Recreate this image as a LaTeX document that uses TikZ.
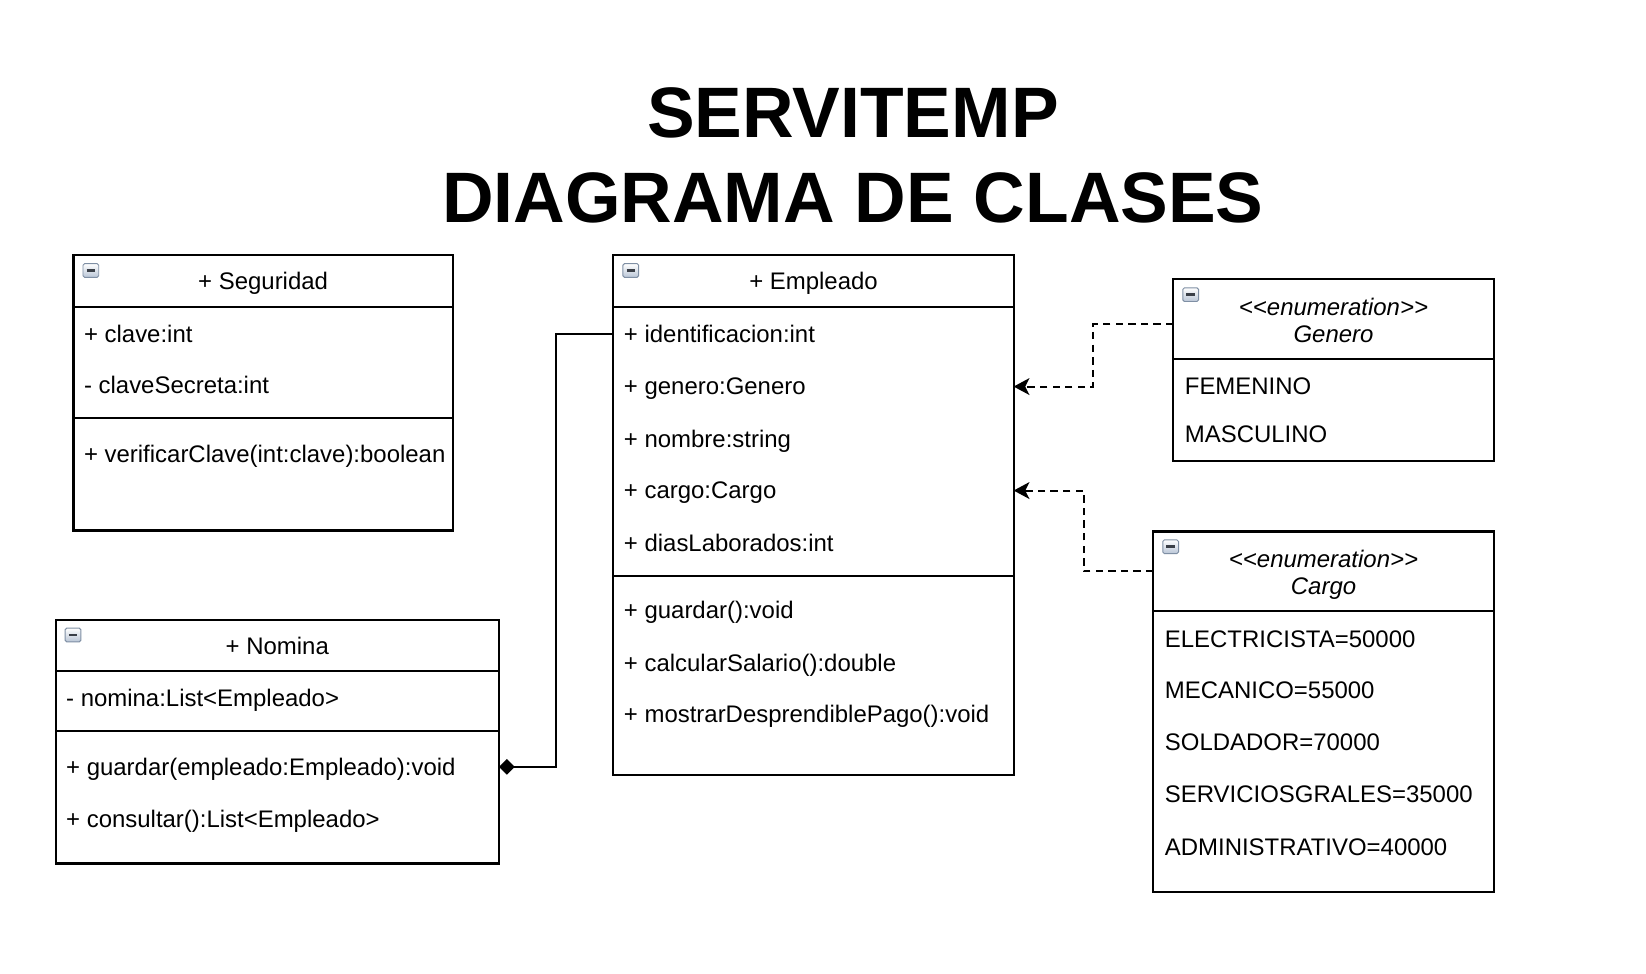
\documentclass[tikz,border=0pt]{standalone}
\usepackage{fontspec}
\setmainfont{Liberation Sans}
\usetikzlibrary{arrows.meta}
\definecolor{icongray}{HTML}{7F8FA4}
\definecolor{iconblue}{HTML}{B9C5D6}
\definecolor{icondark}{HTML}{3A3F47}
\begin{document}
\begin{tikzpicture}[x=1pt,y=-1pt,
  box/.style={draw=black, line width=2pt, inner sep=0pt, outer sep=0pt, anchor=north west},
  txt/.style={inner sep=0pt, outer sep=0pt, text height=17pt, text depth=1pt, font=\fontsize{22.8pt}{27pt}\selectfont},
  row/.style={txt, anchor=west},
  hdr/.style={txt, anchor=center},
  enumhdr/.style={txt, anchor=center, font=\fontsize{22.8pt}{27pt}\selectfont\itshape},
  ttl/.style={inner sep=0pt, anchor=center, font=\fontsize{68pt}{80pt}\selectfont\bfseries},
  comp/.style={draw=black, line width=1.9pt, {Diamond[length=15pt,width=15pt]}-},
  dep/.style={draw=black, line width=1.9pt, dash pattern=on 7pt off 5pt, -{Stealth[length=15pt,width=16pt,inset=4pt]}},
  minusicon/.pic={
    \draw[draw=icongray, line width=0.9pt, rounded corners=1.5pt, top color=white, bottom color=iconblue] (0,0) rectangle (15,13);
    \draw[draw=icondark, line width=2.6pt] (3.5,6.5) -- (11.5,6.5);
  }
]
\fill[white] (0,0) rectangle (1567,927);
\useasboundingbox (0,0) rectangle (1567,927);

% Title
\node[ttl] (title1) at (812,107.5) {SERVITEMP};
\node[ttl] (title2) at (812,188) {DIAGRAMA DE CLASES};

% Seguridad
\node[box, minimum width=361pt, minimum height=49pt] (segh) at (70,243) {};
\node[box, minimum width=361pt, minimum height=106pt] (sega) at (70,292) {};
\node[box, minimum width=361pt, minimum height=107pt] (segm) at (70,398) {};
\pic at (79,251) {minusicon};
\node[hdr] (segt) at (250.5,268) {+ Seguridad};
\node[row] (seg1) at (80,318) {+ clave:int};
\node[row] (seg2) at (80,367) {- claveSecreta:int};
\node[row] (seg3) at (80,432) {+ verificarClave(int:clave):boolean};

% Nomina
\node[box, minimum width=422pt, minimum height=49pt] (nomh) at (53,590) {};
\node[box, minimum width=422pt, minimum height=57pt] (noma) at (53,639) {};
\node[box, minimum width=422pt, minimum height=126pt] (nomm) at (53,696) {};
\pic at (62,598) {minusicon};
\node[hdr] (nomt) at (264,615) {+ Nomina};
\node[row] (nom1) at (63,665) {- nomina:List<Empleado>};
\node[row] (nomg) at (63,730) {+ guardar(empleado:Empleado):void};
\node[row] (nomc) at (63,780) {+ consultar():List<Empleado>};

% Empleado
\node[box, minimum width=381pt, minimum height=49pt] (emph) at (584,243) {};
\node[box, minimum width=381pt, minimum height=256pt] (empa) at (584,292) {};
\node[box, minimum width=381pt, minimum height=190pt] (empm) at (584,548) {};
\pic at (593,251) {minusicon};
\node[hdr] (empt) at (774.5,268) {+ Empleado};
\node[row] (empid) at (594,318) {+ identificacion:int};
\node[row] (empgen) at (594,368) {+ genero:Genero};
\node[row] (empnom) at (594,418) {+ nombre:string};
\node[row] (empcar) at (594,467) {+ cargo:Cargo};
\node[row] (empdias) at (594,517) {+ diasLaborados:int};
\node[row] (empm1) at (594,581) {+ guardar():void};
\node[row] (empm2) at (594,631) {+ calcularSalario():double};
\node[row] (empm3) at (594,680) {+ mostrarDesprendiblePago():void};

% Genero
\node[box, minimum width=305pt, minimum height=76pt] (genh) at (1117,266) {};
\node[box, minimum width=305pt, minimum height=97pt] (genb) at (1117,342) {};
\pic at (1126,274) {minusicon};
\node[enumhdr] (gent1) at (1269.5,292) {<\kern0pt<enumeration>\kern0pt>};
\node[enumhdr] (gent2) at (1269.5,318) {Genero};
\node[row] (gen1) at (1128,368) {FEMENINO};
\node[row] (gen2) at (1128,413) {MASCULINO};

% Cargo
\node[box, minimum width=324pt, minimum height=76pt] (carh) at (1098,506) {};
\node[box, minimum width=324pt, minimum height=267pt] (carb) at (1098,582) {};
\pic at (1107,514) {minusicon};
\node[enumhdr] (cart1) at (1260,532) {<\kern0pt<enumeration>\kern0pt>};
\node[enumhdr] (cart2) at (1260,558) {Cargo};
\node[row] (car1) at (1109,608) {ELECTRICISTA=50000};
\node[row] (car2) at (1109,657) {MECANICO=55000};
\node[row] (car3) at (1109,706) {SOLDADOR=70000};
\node[row] (car4) at (1109,756) {SERVICIOSGRALES=35000};
\node[row] (car5) at (1109,806) {ADMINISTRATIVO=40000};

% Connectors
\draw[comp] (nomm.east |- nomg.west) -- ++(54.5,0) |- (empa.west |- empid.west);
\draw[dep] ([yshift=-4pt]genh.west) -- ++(-76,0) |- (empa.east |- empgen.west);
\draw[dep] (carh.west) -- ++(-66.5,0) |- (empa.east |- empcar.west);
\end{tikzpicture}
\end{document}
